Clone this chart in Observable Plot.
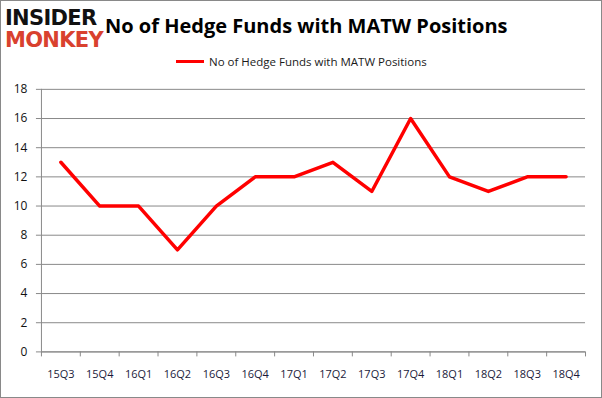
<!DOCTYPE html>
<html><head><meta charset="utf-8">
<script src="https://cdn.jsdelivr.net/npm/d3@7"></script>
<script src="https://cdn.jsdelivr.net/npm/@observablehq/plot@0.6"></script>
<style>
body{margin:0;background:#fff;}
#wrap{position:relative;width:600px;height:396px;border:1px solid #898989;background:#fff;overflow:hidden;font-family:"Open Sans",sans-serif;}
#title{position:absolute;left:104px;top:11px;font-weight:bold;font-size:20px;line-height:28px;color:#000;white-space:nowrap;}
#legend{position:absolute;top:53px;left:175px;font-size:11.5px;color:#1a1a1a;display:flex;align-items:center;white-space:nowrap;}
#legend span.sw{display:inline-block;width:28px;height:3px;background:#ff0000;margin-right:5px;}
.logo{position:absolute;left:4px;font-family:"DejaVu Sans",sans-serif;font-weight:bold;letter-spacing:-0.7px;white-space:nowrap;}
#l1{top:7px;font-size:21px;line-height:21px;color:#111;}
#l2{top:29px;font-size:21px;line-height:21px;color:#d9412e;}
#chart{position:absolute;left:-1px;top:-1px;}
</style></head>
<body>
<div id="wrap">
<div id="chart"></div>
<div id="title">No of Hedge Funds with MATW Positions</div>
<div id="legend"><span class="sw"></span>No of Hedge Funds with MATW Positions</div>
<div class="logo" id="l1">INSIDER</div>
<div class="logo" id="l2">MONKEY</div>
</div>
<script>
const categories = ["15Q3","15Q4","16Q1","16Q2","16Q3","16Q4","17Q1","17Q2","17Q3","17Q4","18Q1","18Q2","18Q3","18Q4"];
const values = [13,10,10,7,10,12,12,13,11,16,12,11,12,12];
const yTicks = [0,2,4,6,8,10,12,14,16,18];

const data = categories.map((c,i)=>({c, i, v: values[i]}));
const chart = Plot.plot({
  width: 602, height: 398,
  marginTop: 89, marginBottom: 46, marginLeft: 41, marginRight: 16,
  style: {fontFamily: "'Open Sans', sans-serif", fontSize: "11px", color: "#1a1a3a", background: "transparent"},
  x: {domain: [0, categories.length], axis: null, label: null},
  y: {domain: [0, 18], axis: null, label: null},
  marks: [
    Plot.gridY(yTicks, {stroke: "#898989", strokeOpacity: 1, strokeWidth: 1}),
    Plot.axisY(yTicks, {tickSize: 5, tickPadding: 9, stroke: "#898989", fontSize: 12, color:"#111", label: null}),
    Plot.ruleX([0], {stroke: "#898989"}),
    Plot.ruleY([0], {stroke: "#898989"}),
    Plot.axisX(d3.range(categories.length + 1), {tickSize: 5, tickFormat: () => "", stroke: "#898989", label: null}),
    Plot.axisX(d3.range(categories.length).map(i => i + 0.5), {tickSize: 0, tickPadding: 18, tickFormat: t => categories[Math.floor(t)], fontSize: 11, fill: "#1a1a3a", label: null}),
    Plot.line(data, {x: d => d.i + 0.5, y: "v", stroke: "#ff0000", strokeWidth: 3.5, strokeLinejoin: "round", strokeLinecap:"round"})
  ]
});
document.getElementById("chart").appendChild(chart);
</script>
</body></html>
